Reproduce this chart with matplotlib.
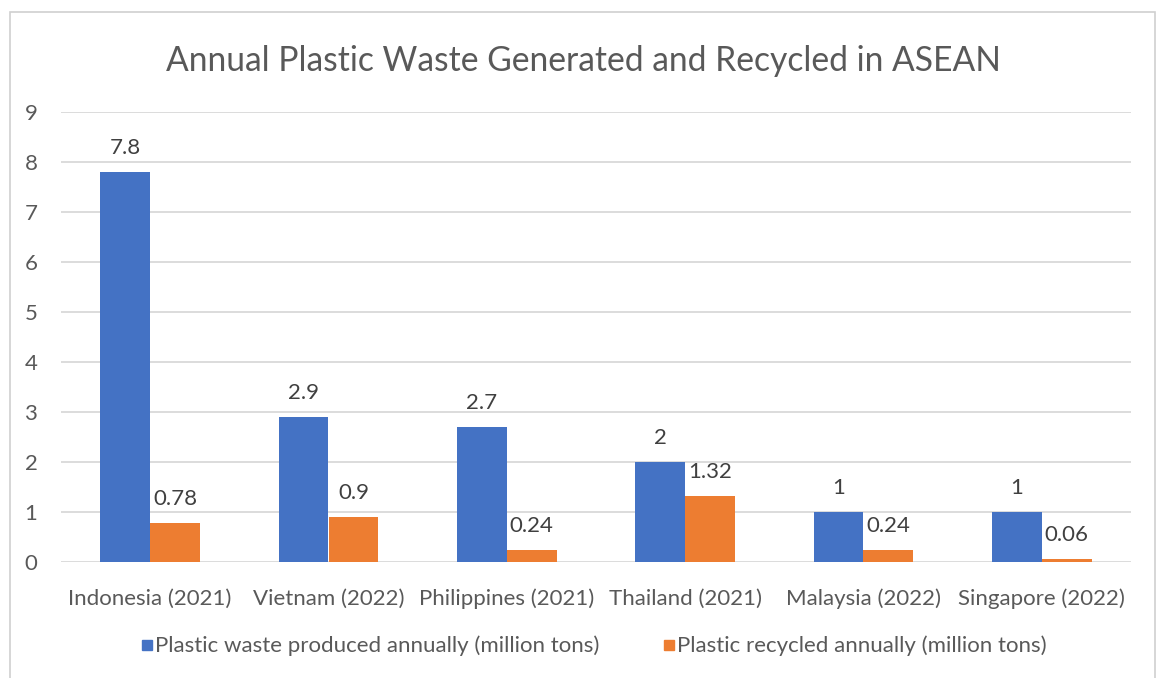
import matplotlib
matplotlib.use("Agg")
import matplotlib.pyplot as plt
from matplotlib.patches import Rectangle
from matplotlib.lines import Line2D
import numpy as np

categories = ["Indonesia (2021)", "Vietnam (2022)", "Philippines (2021)",
              "Thailand (2021)", "Malaysia (2022)", "Singapore (2022)"]
produced = [7.8, 2.9, 2.7, 2.0, 1.0, 1.0]
recycled = [0.78, 0.9, 0.24, 1.32, 0.24, 0.06]
produced_labels = ["7.8", "2.9", "2.7", "2", "1", "1"]
recycled_labels = ["0.78", "0.9", "0.24", "1.32", "0.24", "0.06"]
series_names = ["Plastic waste produced annually (million tons)",
                "Plastic recycled annually (million tons)"]
title = "Annual Plastic Waste Generated and Recycled in ASEAN"

BLUE = "#4472C4"
ORANGE = "#ED7D31"
TXT = "#595959"
GRID = "#D9D9D9"
FONT = "Lato"

plt.rcParams['font.family'] = [FONT, 'DejaVu Sans']

W, H = 1157, 678
fig = plt.figure(figsize=(W / 100, H / 100), dpi=100)
fig.patch.set_facecolor("white")

# outer chart frame
fig.add_artist(Rectangle((10 / W, -0.05), (1155 - 10) / W, 1.05 - 12 / H,
                         transform=fig.transFigure, fill=False,
                         edgecolor="#D0D0D0", linewidth=1.2))

ax = fig.add_axes([61 / W, 1 - 562 / H, (1131 - 61) / W, (562 - 112) / H])
x = np.arange(len(categories))
bw = 0.28
b1 = ax.bar(x - bw / 2, produced, bw, color=BLUE, zorder=3)
b2 = ax.bar(x + bw / 2, recycled, bw, color=ORANGE, zorder=3)

for rect, lab in zip(b1, produced_labels):
    ax.annotate(lab, (rect.get_x() + rect.get_width() / 2, rect.get_height()),
                xytext=(0, 10), textcoords="offset points", ha="center",
                va="bottom", fontsize=16, color="#404040")
for rect, lab in zip(b2, recycled_labels):
    ax.annotate(lab, (rect.get_x() + rect.get_width() / 2, rect.get_height()),
                xytext=(0, 10), textcoords="offset points", ha="center",
                va="bottom", fontsize=16, color="#404040")

ax.set_xlim(-0.5, len(categories) - 0.5)
ax.set_ylim(0, 9)
ax.set_yticks(range(0, 10))
ax.set_xticks(x)
ax.set_xticklabels(categories)
ax.yaxis.grid(True, color=GRID, linewidth=1.3, zorder=0)
ax.set_axisbelow(True)
for s in ax.spines.values():
    s.set_visible(False)
ax.tick_params(axis="both", length=0, labelsize=16, colors=TXT)
ax.tick_params(axis="y", pad=17)
ax.tick_params(axis="x", pad=19)

fig.text(583 / W, 1 - 61 / H, title, ha="center", va="center",
         fontsize=24.2, color=TXT)

handles = [Line2D([], [], marker="s", linestyle="none", markersize=7,
                  markerfacecolor=BLUE, markeredgecolor=BLUE),
           Line2D([], [], marker="s", linestyle="none", markersize=7,
                  markerfacecolor=ORANGE, markeredgecolor=ORANGE)]
leg = fig.legend(handles, series_names, loc="center",
                 bbox_to_anchor=(594 / W, 1 - 646 / H), ncol=2, frameon=False,
                 fontsize=16, labelcolor=TXT, handletextpad=0.1,
                 columnspacing=2.9, handlelength=0.5)

fig.savefig("out.png", dpi=100)
